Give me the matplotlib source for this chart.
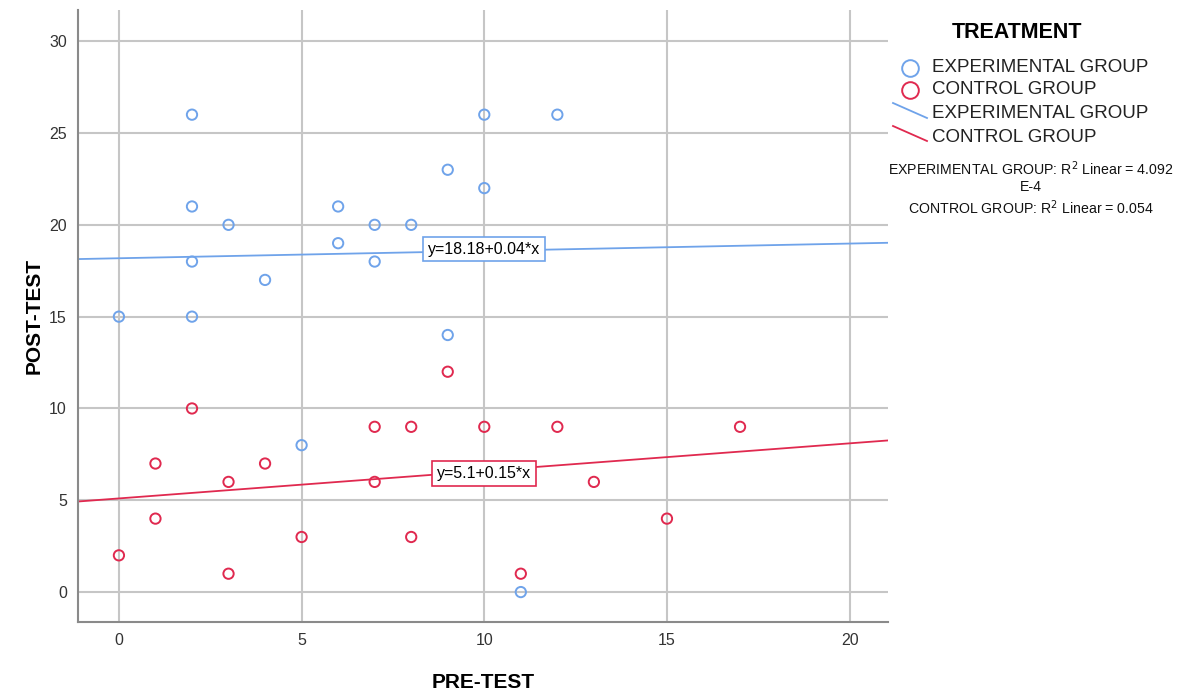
import matplotlib
matplotlib.use("Agg")
import matplotlib.pyplot as plt
from matplotlib.lines import Line2D
import numpy as np

plt.rcParams['font.family'] = ['Liberation Sans', 'DejaVu Sans']

# Data
exp_pre = [2, 10, 12, 9, 10, 2, 6, 3, 7, 8, 6, 2, 7, 4, 0, 2, 9, 5, 11]
exp_post = [26, 26, 26, 23, 22, 21, 21, 20, 20, 20, 19, 18, 18, 17, 15, 15, 14, 8, 0]
ctl_pre = [0, 1, 1, 2, 3, 3, 4, 5, 7, 7, 8, 8, 9, 10, 12, 17, 13, 15, 11]
ctl_post = [2, 4, 7, 10, 6, 1, 7, 3, 9, 6, 9, 3, 12, 9, 9, 9, 6, 4, 1]
exp_fit = [18.18, 0.04]   # intercept, slope
ctl_fit = [5.1, 0.15]
exp_label = "y=18.18+0.04*x"
ctl_label = "y=5.1+0.15*x"
group_names = ["EXPERIMENTAL GROUP", "CONTROL GROUP"]
r2_text = "EXPERIMENTAL GROUP: R$^2$ Linear = 4.092\nE-4\nCONTROL GROUP: R$^2$ Linear = 0.054"
x_ticks = [0, 5, 10, 15, 20]
y_ticks = [0, 5, 10, 15, 20, 25, 30]

blue = "#6fa3ea"
red = "#e0294f"

fig = plt.figure(figsize=(11.87, 6.9), dpi=100)
ax = fig.add_axes([78/1187, 1-622/690, (888-78)/1187, (622-10)/690])

xlim = (-1.12, 21.05)
ylim = (-1.63, 31.7)
ax.set_xlim(*xlim)
ax.set_ylim(*ylim)
ax.set_xticks(x_ticks)
ax.set_yticks(y_ticks)
ax.grid(True, color="#c6c6c6", linewidth=1.5, zorder=0)
ax.set_axisbelow(True)
for s in ["top", "right"]:
    ax.spines[s].set_visible(False)
for s in ["left", "bottom"]:
    ax.spines[s].set_color("#8a8a8a")
    ax.spines[s].set_linewidth(1.5)
ax.tick_params(length=0, labelsize=11.5, colors="#333333", pad=8)

xs = np.array(xlim)
ax.plot(xs, exp_fit[0] + exp_fit[1]*xs, color=blue, lw=1.3, zorder=2)
ax.plot(xs, ctl_fit[0] + ctl_fit[1]*xs, color=red, lw=1.3, zorder=2)

ax.scatter(exp_pre, exp_post, s=55, facecolors="none", edgecolors=blue, linewidths=1.4, zorder=3)
ax.scatter(ctl_pre, ctl_post, s=55, facecolors="none", edgecolors=red, linewidths=1.4, zorder=3)

ax.text(10, exp_fit[0] + exp_fit[1]*10 + 0.1, exp_label, ha="center", va="center", fontsize=11.5,
        bbox=dict(boxstyle="square,pad=0.3", fc="white", ec=blue, lw=1.2), zorder=4)
ax.text(10, ctl_fit[0] + ctl_fit[1]*10 - 0.15, ctl_label, ha="center", va="center", fontsize=11.5,
        bbox=dict(boxstyle="square,pad=0.3", fc="white", ec=red, lw=1.2), zorder=4)

ax.set_xlabel("PRE-TEST", fontsize=15, fontweight="bold", labelpad=18)
ax.set_ylabel("POST-TEST", fontsize=15, fontweight="bold", labelpad=4)

# Legend drawn manually in figure pixel coords
W, H = 1187, 690
def fx(px): return px / W
def fy(py): return 1 - py / H

fig.text(fx(1017), fy(32), "TREATMENT", ha="center", va="center", fontsize=15.5, fontweight="bold")
rows = [68, 90, 114, 137]
fig.add_artist(Line2D([fx(910)], [fy(rows[0])], marker="o", ms=12, mfc="none", mec=blue, mew=1.4, transform=fig.transFigure))
fig.add_artist(Line2D([fx(910)], [fy(rows[1])], marker="o", ms=12, mfc="none", mec=red, mew=1.4, transform=fig.transFigure))
fig.add_artist(Line2D([fx(893), fx(927)], [fy(rows[2]-11), fy(rows[2]+4)], color=blue, lw=1.3, transform=fig.transFigure))
fig.add_artist(Line2D([fx(893), fx(927)], [fy(rows[3]-11), fy(rows[3]+4)], color=red, lw=1.3, transform=fig.transFigure))
labels = [group_names[0], group_names[1], group_names[0], group_names[1]]
for r, lab in zip(rows, labels):
    fig.text(fx(932), fy(r), lab, ha="left", va="center", fontsize=13.5, color="#222222")
fig.text(fx(1031), fy(188), r2_text, ha="center", va="center", fontsize=10.2, linespacing=1.25, color="#111111")

fig.savefig("out.png", dpi=100)
